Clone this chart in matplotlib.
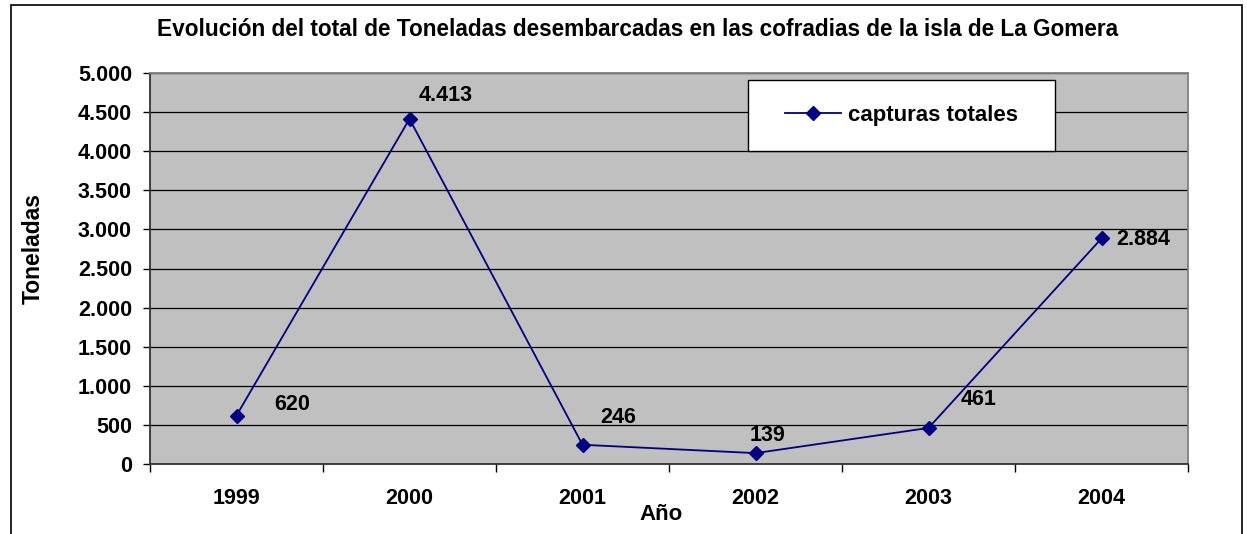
import matplotlib
matplotlib.use("Agg")
import matplotlib.pyplot as plt
from matplotlib.patches import Rectangle
from matplotlib.ticker import FuncFormatter, FixedLocator

years = ["1999", "2000", "2001", "2002", "2003", "2004"]
capturas = [620, 4413, 246, 139, 461, 2884]
yticks = [0, 500, 1000, 1500, 2000, 2500, 3000, 3500, 4000, 4500, 5000]
title = "Evolución del total de Toneladas desembarcadas en las cofradias de la isla de La Gomera"
series_name = "capturas totales"
xlabel = "Año"
ylabel = "Toneladas"

# label offsets in pixels (layout): left edge of label relative to point
label_offsets = [(38, 11), (9, 23), (18, 27), (-6, 18), (32, 28), (15, -1)]

plt.rcParams['font.family'] = ['Liberation Sans', 'DejaVu Sans']
W, H = 1247, 534
FS = 15.5
fig = plt.figure(figsize=(W / 100, H / 100), dpi=100)
fig.patch.set_facecolor("white")

# outer frame
fig.add_artist(Rectangle((11 / W, -0.1), (1242 - 11) / W, 1.1 - 5 / H,
                         transform=fig.transFigure, fill=False,
                         edgecolor="black", linewidth=1.2))

ax = fig.add_axes([150 / W, 1 - 464 / H, (1188 - 150) / W, (464 - 73) / H])
ax.set_facecolor("#C0C0C0")
x = list(range(len(years)))
ax.plot(x, capturas, color="#000080", linewidth=1.3, marker="D",
        markersize=7, markerfacecolor="#000080", markeredgecolor="#000080",
        label=series_name, zorder=3)
ax.set_xlim(-0.5, len(years) - 0.5)
ax.set_ylim(0, 5000)
ax.yaxis.set_major_locator(FixedLocator(yticks))
ax.yaxis.set_major_formatter(FuncFormatter(lambda v, p: f"{int(v):,}".replace(",", ".")))
ax.grid(axis="y", color="black", linewidth=0.9, zorder=1)
ax.set_axisbelow(True)

ax.set_xticks(x)
ax.set_xticklabels(years)
ax.set_xticks([i - 0.5 for i in range(len(years) + 1)], minor=True)
ax.tick_params(axis="x", which="major", length=0, pad=17, labelsize=FS)
ax.tick_params(axis="x", which="minor", length=6, width=1, color="black", direction="out")
ax.tick_params(axis="y", length=5, width=1, color="black", direction="out", pad=8, labelsize=FS)
for lab in ax.get_xticklabels() + ax.get_yticklabels():
    lab.set_fontweight("bold")

for s in ["left", "bottom"]:
    ax.spines[s].set_color("#333333")
    ax.spines[s].set_linewidth(1.3)
for s in ["top", "right"]:
    ax.spines[s].set_color("#808080")
    ax.spines[s].set_linewidth(1.3)

for xi, v, (dx, dy) in zip(x, capturas, label_offsets):
    ax.annotate(f"{v:,}".replace(",", "."), (xi, v), xytext=(dx, dy),
                textcoords="offset pixels", ha="left",
                va="center", fontsize=FS, fontweight="bold", zorder=4)

# legend box
lx0, lx1, ly0, ly1 = 748, 1055, 80, 151
ax.add_patch(Rectangle(((lx0 - 150) / 1038, (464 - ly1) / 391), (lx1 - lx0) / 1038,
                       (ly1 - ly0) / 391, transform=ax.transAxes, facecolor="white",
                       edgecolor="black", linewidth=1, zorder=5))
leg = ax.legend(loc="center", bbox_to_anchor=(((lx0 + lx1) / 2 - 150) / 1038,
                                              (464 - (ly0 + ly1) / 2) / 391),
                frameon=False, prop={"weight": "bold", "size": 16},
                handlelength=2.5, handletextpad=0.3)
leg.set_zorder(6)

fig.text(638 / W, 1 - 29 / H, title, ha="center", va="center",
         fontsize=16.3, fontweight="bold")
fig.text(661 / W, 1 - 514 / H, xlabel, ha="center", va="center",
         fontsize=16, fontweight="bold")
fig.text(33 / W, 1 - 248 / H, ylabel, ha="center", va="center", rotation=90,
         fontsize=16.5, fontweight="bold")

fig.savefig("out.png", dpi=100, facecolor="white")
